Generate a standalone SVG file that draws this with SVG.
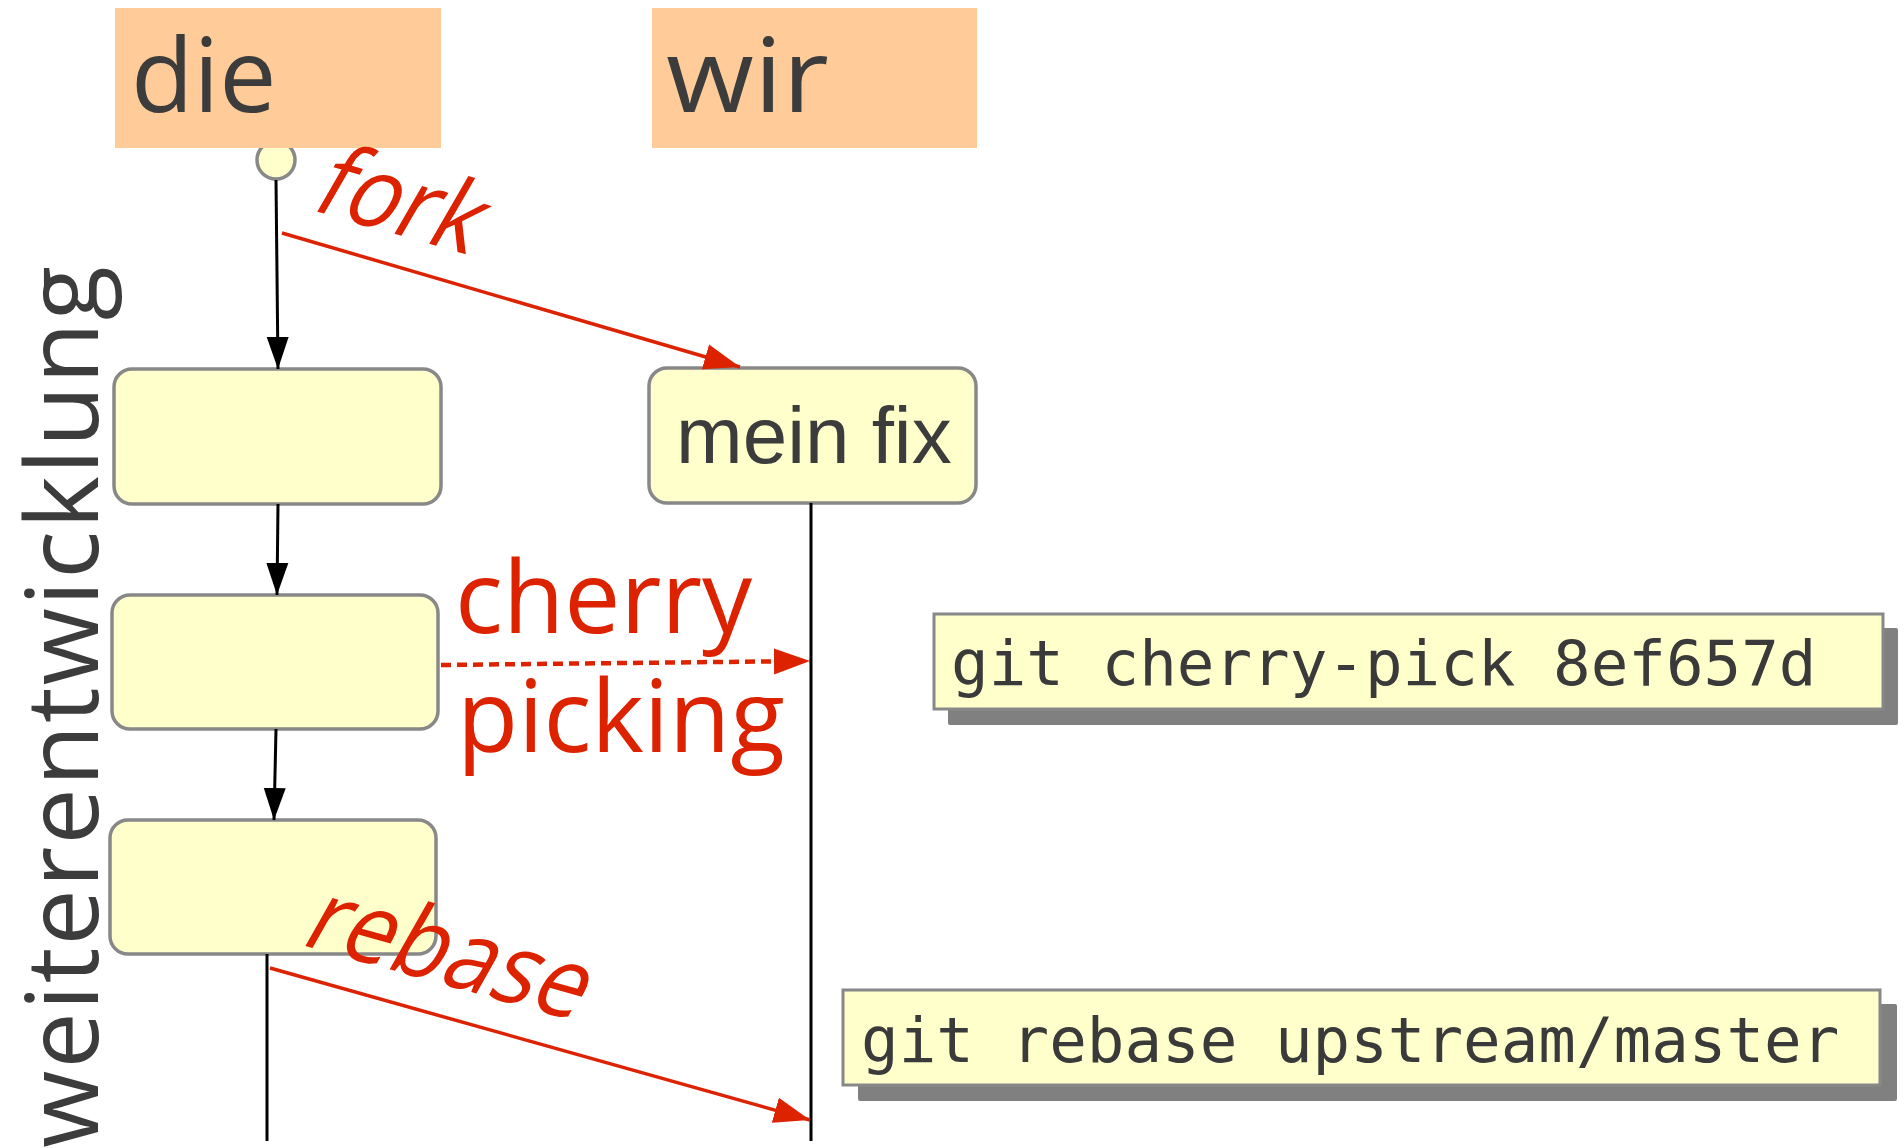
<svg xmlns="http://www.w3.org/2000/svg" width="1904" height="1148" viewBox="0 0 1904 1148">
<style>
.hdr{fill:#ffcc99}
.lbl{font-family:"Open Sans","DejaVu Sans",sans-serif;fill:#3c3c3c}
.node{fill:#ffffcc;stroke:#888888;stroke-width:3.5}
.cmd{fill:#ffffcc;stroke:#888888;stroke-width:3}
.shadow{fill:#808080}
.mono{font-family:"DejaVu Sans Mono","Liberation Mono",monospace;font-size:62.5px;fill:#3a3a3a}
.red{font-family:"Open Sans","DejaVu Sans",sans-serif;font-size:100px;fill:#dd2200}
.blk{stroke:#000;stroke-width:3;fill:none}
.rl{stroke:#dd2200;stroke-width:3.5;fill:none}
.dot{stroke:#dd2200;stroke-width:4.5;fill:none;stroke-dasharray:10 6}
</style>
<defs>
<marker id="ab" markerUnits="userSpaceOnUse" markerWidth="32" markerHeight="24" refX="32" refY="12" orient="auto"><path d="M0,1 L32,12 L0,23 z" fill="#000"/></marker>
<marker id="ar" markerUnits="userSpaceOnUse" markerWidth="36" markerHeight="28" refX="36" refY="14" orient="auto"><path d="M0,1 L36,14 L0,27 z" fill="#dd2200"/></marker>
</defs>

<g id="start"><circle cx="276" cy="160" r="19" fill="#ffffcc" stroke="#888888" stroke-width="3.5"/></g>
<g id="die"><rect class="hdr" x="115" y="8" width="326" height="140"/><text class="lbl" x="131" y="112" font-size="102">die</text></g>
<g id="wir"><rect class="hdr" x="652" y="8" width="325" height="140"/><text class="lbl" x="666" y="112" font-size="102" textLength="163" lengthAdjust="spacingAndGlyphs">wir</text></g>

<g id="commit1"><rect class="node" x="114" y="369" width="327" height="135" rx="18"/></g>
<g id="commit2"><rect class="node" x="112" y="595" width="326" height="134" rx="18"/></g>
<g id="commit3"><rect class="node" x="110" y="820" width="326" height="134" rx="18"/></g>
<g id="meinfix"><rect class="node" x="649" y="368" width="327" height="135" rx="18"/><text x="676" y="463" font-family="Liberation Sans, Arial, sans-serif" font-size="80" fill="#3c3c3c">mein fix</text></g>

<g id="cmd-cherry"><rect class="shadow" x="948" y="628" width="950" height="97" rx="2"/><rect class="cmd" x="934" y="614" width="949" height="95"/><text class="mono" x="951" y="685">git cherry-pick 8ef657d</text></g>
<g id="cmd-rebase"><rect class="shadow" x="858" y="1004" width="1039" height="97" rx="2"/><rect class="cmd" x="843" y="990" width="1037" height="95"/><text class="mono" x="861" y="1062">git rebase upstream/master</text></g>

<g id="axis-label"><text class="lbl" font-size="100" letter-spacing="2" text-anchor="end" transform="translate(98,264) rotate(-90)">weiterentwicklung</text></g>

<g id="connectors">
<line class="blk" x1="276" y1="180" x2="278" y2="369" marker-end="url(#ab)"/>
<line class="blk" x1="278" y1="504" x2="277" y2="595" marker-end="url(#ab)"/>
<line class="blk" x1="276" y1="729" x2="274" y2="820" marker-end="url(#ab)"/>
<line class="blk" x1="267" y1="954" x2="267" y2="1141"/>
<line class="blk" x1="811" y1="503" x2="811" y2="1141"/>
<line class="rl" x1="282" y1="233" x2="740" y2="367" marker-end="url(#ar)"/>
<line class="dot" x1="441" y1="665" x2="810" y2="661" marker-end="url(#ar)"/>
<line class="rl" x1="270" y1="968" x2="810" y2="1120" marker-end="url(#ar)"/>
<text class="red" font-size="108" transform="translate(308,209) rotate(16) skewX(-14) scale(0.88,1)">fork</text>
<text class="red" x="455" y="633">cherry</text>
<text class="red" x="457" y="752" font-size="103">picking</text>
<text class="red" font-size="102" transform="translate(298,944) rotate(15.5) skewX(-14) scale(0.9,1)">rebase</text>
</g>
</svg>
